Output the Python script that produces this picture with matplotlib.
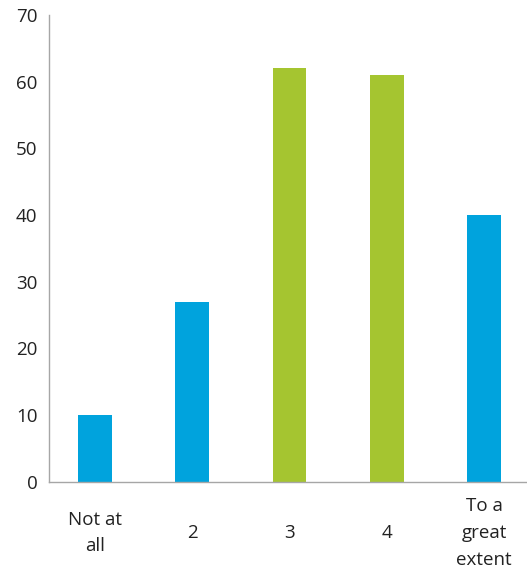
import matplotlib
matplotlib.use("Agg")
import matplotlib.pyplot as plt

categories = ["Not at\nall", "2", "3", "4", "To a\ngreat\nextent"]
values = [10, 27, 62, 61, 40]
colors = ["#00A3DD", "#00A3DD", "#A5C530", "#A5C530", "#00A3DD"]
yticks = [0, 10, 20, 30, 40, 50, 60, 70]

plt.rcParams["font.family"] = ["Open Sans", "DejaVu Sans"]

fig = plt.figure(figsize=(5.27, 5.77), dpi=100)
ax = fig.add_axes([0.0939, 0.1655, 0.9061, 0.8085])

x = range(len(categories))
ax.bar(x, values, width=0.347, color=colors)

ax.set_ylim(0, 70)
ax.set_xlim(-0.468, 4.44)
ax.set_yticks(yticks)
ax.set_yticklabels([str(v) for v in yticks], fontsize=13.5, color="#222222")
ax.set_xticks(list(x))
ax.set_xticklabels(categories, fontsize=13.5, color="#222222", linespacing=1.62)
for lbl in ax.get_xticklabels():
    lbl.set_verticalalignment("center")

ax.tick_params(axis="x", length=0, pad=37)
ax.tick_params(axis="y", length=0, pad=8.6)

for side in ["top", "right"]:
    ax.spines[side].set_visible(False)
for side in ["left", "bottom"]:
    ax.spines[side].set_color("#A6A6A6")
    ax.spines[side].set_linewidth(1.0)

fig.savefig("out.png", dpi=100)
